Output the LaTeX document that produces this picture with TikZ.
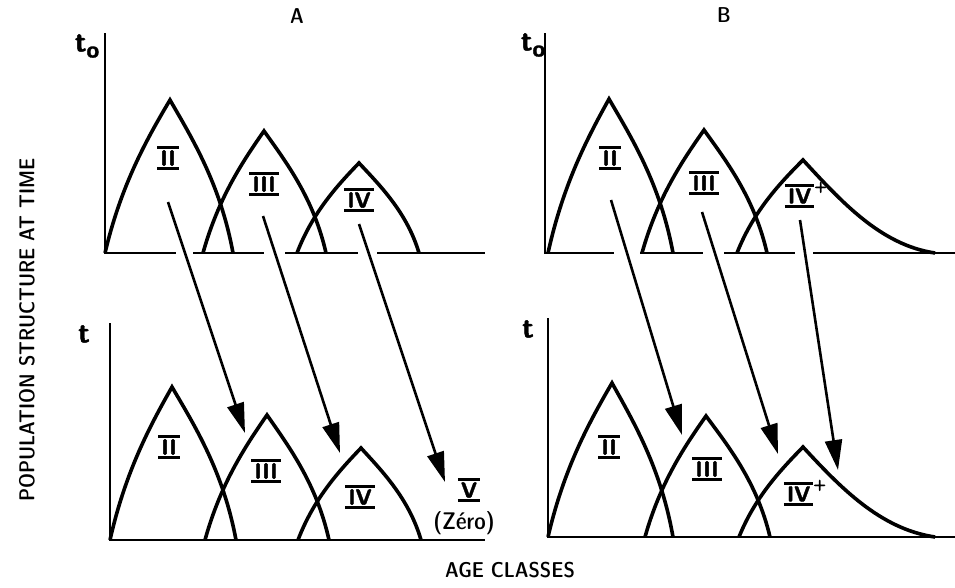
\documentclass[tikz,border=0pt]{standalone}
\usepackage{fontspec}
\usetikzlibrary{arrows.meta}

\newfontfamily\lblfont{lmsansdemicond10-regular.otf}
\newfontfamily\rnfont{lmsans10-bold.otf}[FakeBold=1.5]

% roman numeral with a bar above and below
\newcommand\rn[1]{\setbox0\hbox{\rnfont #1}\dimen0=\wd0 \advance\dimen0 by 6pt
  \vbox{\hrule height 3.6pt width \dimen0 \kern1pt \hbox to \dimen0{\hss\box0\hss}\kern1pt \hrule height 3.6pt}}

% age class curve: left foot, peak x, peak y, right foot, base line
\newcommand\arch[5]{\draw[curve] (#1,#5)
  .. controls +({0.25*(#2-#1)},{-0.45*(#5-#3)}) and +({-0.35*(#2-#1)},{0.25*(#5-#3)}) .. (#2,#3)
  .. controls +({0.35*(#4-#2)},{0.25*(#5-#3)}) and +({-0.2*(#4-#2)},{-0.45*(#5-#3)}) .. (#4,#5);}

\begin{document}
\begin{tikzpicture}[x=1pt, y=-1pt,
    curve/.style={line width=3.6pt},
    axis/.style={line width=2.6pt},
    migr/.style={line width=2.6pt, -{Triangle[length=30pt,width=17pt]}},
    rnum/.style={font=\fontsize{22}{24}\selectfont, inner sep=0pt},
    lbl/.style={font=\lblfont\fontsize{21.5}{24}\selectfont, inner sep=0pt},
    tlbl/.style={font=\rnfont, inner sep=0pt}]
    \useasboundingbox (0,0) rectangle (955,587);

    % Titles
    \node[lbl] (lblA) at (297,16) {A};
    \node[lbl] (lblB) at (724,15) {B};
    \node[lbl, rotate=90] (ylabel) at (27,330) {POPULATION STRUCTURE AT TIME};
    \node[lbl] (xlabel) at (510,570) {AGE CLASSES};
    \node[tlbl] (tA0) at (87,46) {{\fontsize{29}{30}\selectfont t}\raisebox{-6pt}{\fontsize{23}{23}\selectfont o}};
    \node[tlbl] (tB0) at (533,45) {{\fontsize{29}{30}\selectfont t}\raisebox{-6pt}{\fontsize{23}{23}\selectfont o}};
    \node[tlbl, font=\rnfont\fontsize{29}{30}\selectfont] (tA1) at (84,334) {t};
    \node[tlbl, font=\rnfont\fontsize{29}{30}\selectfont] (tB1) at (528,329) {t};

    % A, time t0
    \draw[axis] (105,33) -- (105,253) -- (176,253);
    \draw[axis] (193,253) -- (264,253);
    \draw[axis] (285,253) -- (358,253);
    \draw[axis] (377,253) -- (485,253);
    \arch{105}{170}{100}{233}{253}
    \arch{203}{264}{131}{326}{253}
    \arch{297}{359}{163}{419}{253}
    \node[rnum] (a0II) at (168,158) {\rn{II}};
    \node[rnum] (a0III) at (264,184) {\rn{III}};
    \node[rnum] (a0IV) at (359,200) {\rn{IV}};

    % A, time t
    \draw[axis] (110,323) -- (110,540) -- (485,540);
    \arch{110}{172}{387}{236}{540}
    \arch{205}{267}{415}{329}{540}
    \arch{298}{361}{448}{421}{540}
    \node[rnum] (a1II) at (169,447) {\rn{II}};
    \node[rnum] (a1III) at (266,471) {\rn{III}};
    \node[rnum] (a1IV) at (360,497) {\rn{IV}};
    \node[rnum] (a1V) at (469,490) {\rn{V}};
    \node[lbl, font=\lblfont\fontsize{24}{26}\selectfont] (a1zero) at (464,523) {(Zéro)};

    % B, time t0
    \draw[axis] (545,33) -- (545,253) -- (614,253);
    \draw[axis] (640,253) -- (703,253);
    \draw[axis] (724,253) -- (795,253);
    \draw[axis] (813,253) -- (955,253);
    \arch{548}{609}{99}{673}{253}
    \arch{642}{704}{130}{767}{253}
    \draw[curve] (737,253) .. controls +(16.5,-42) and +(-23,23) .. (803,160)
        .. controls (840,200) and (880,245) .. (935,253);
    \node[rnum] (b0II) at (610,158) {\rn{II}};
    \node[rnum] (b0III) at (704,183) {\rn{III}};
    \node[rnum] (b0IV) at (806,195) {\rn{IV}\raisebox{17pt}{\rnfont\fontsize{15}{16}\selectfont+}};

    % B, time t
    \draw[axis] (548,318) -- (548,537) -- (955,537);
    \arch{548}{612}{383}{673}{537}
    \arch{645}{706}{416}{770}{537}
    \draw[curve] (739,537) .. controls +(16,-40) and +(-22,22.5) .. (803,447)
        .. controls (840,487) and (880,529) .. (935,537);
    \node[rnum] (b1II) at (609,447) {\rn{II}};
    \node[rnum] (b1III) at (707,469) {\rn{III}};
    \node[rnum] (b1IV) at (805,493) {\rn{IV}\raisebox{17pt}{\rnfont\fontsize{15}{16}\selectfont+}};

    % ageing arrows
    \coordinate (a0s1) at (168,202);
    \coordinate (a0s2) at (263,216);
    \coordinate (a0s3) at (359,224);
    \coordinate (a1e1) at (245,433);
    \coordinate (a1e2) at (340,453);
    \coordinate (a1e3) at (445,482);
    \coordinate (b0s1) at (611,200);
    \coordinate (b0s2) at (702,212);
    \coordinate (b0s3) at (800,220);
    \coordinate (b1e1) at (682,435);
    \coordinate (b1e2) at (778,454);
    \coordinate (b1e3) at (838,470);
    \draw[migr] (a0s1) -- (a1e1);
    \draw[migr] (a0s2) -- (a1e2);
    \draw[migr] (a0s3) -- (a1e3);
    \draw[migr] (b0s1) -- (b1e1);
    \draw[migr] (b0s2) -- (b1e2);
    \draw[migr] (b0s3) -- (b1e3);
\end{tikzpicture}
\end{document}
